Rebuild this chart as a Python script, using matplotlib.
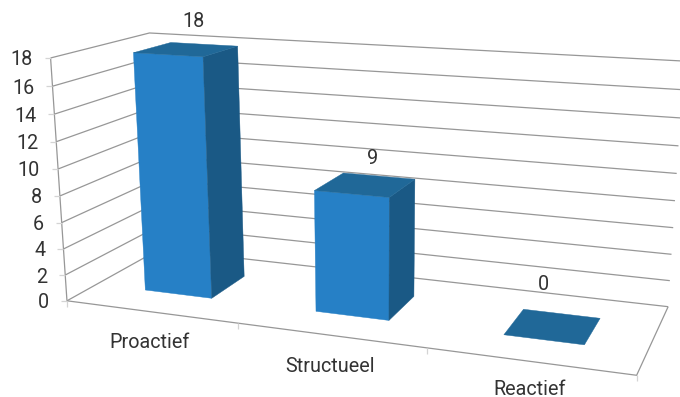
import numpy as np
import matplotlib
matplotlib.use('Agg')
import matplotlib.pyplot as plt
from matplotlib.patches import Polygon

categories = ['Proactief', 'Structueel', 'Reactief']
values = [18, 9, 0]
y_ticks = [0, 2, 4, 6, 8, 10, 12, 14, 16, 18]

plt.rcParams['font.family'] = ['Roboto', 'DejaVu Sans']

W, H = 680, 397
grid_color = '#979797'
tick_color = '#d4d4d4'
text_color = '#333333'
front_color = '#2680c6'
side_color = '#1a5985'
top_color = '#206898'

# camera: (category, depth, value) -> pixel position
box_pts = [((0, 0, 0), (66.5, 301)), ((3, 0, 0), (636.7, 375)),
           ((0, 1, 0), (160, 249)), ((3, 1, 0), (668, 307)),
           ((0, 0, 18), (51, 58)), ((0, 1, 18), (149, 33)), ((3, 1, 18), (684, 61))]
A, b = [], []
for (x, d, v), (u, w) in box_pts:
    A.append([x, d, v, 1, 0, 0, 0, 0, -u * x, -u * d, -u * v])
    b.append(u)
    A.append([0, 0, 0, 0, x, d, v, 1, -w * x, -w * d, -w * v])
    b.append(w)
p = np.linalg.lstsq(np.array(A, float), np.array(b, float), rcond=None)[0]
P = np.append(p, 1).reshape(3, 4)


def proj(x, d, v):
    q = P @ np.array([x, d, v, 1.0])
    return q[:2] / q[2]


fig = plt.figure(figsize=(W / 100, H / 100), dpi=100)
ax = fig.add_axes([0, 0, 1, 1])
ax.set_xlim(0, W)
ax.set_ylim(H, 0)
ax.axis('off')


def line(pts, color=grid_color, lw=0.9):
    pts = np.array(pts)
    ax.plot(pts[:, 0], pts[:, 1], color=color, lw=lw, solid_capstyle='butt', zorder=1)


# walls
for v in y_ticks:
    line([proj(0, 0, v), proj(0, 1, v), proj(3, 1, v)])
line([proj(0, 0, 0), proj(0, 0, max(y_ticks))])

# floor outline
line([proj(0, 0, 0), proj(3, 0, 0), proj(3, 1, 0)])

# tick marks and axis labels
for v in y_ticks:
    x0, y0 = proj(0, 0, v)
    line([(x0 - 6, y0), (x0, y0)], color=tick_color)
    ax.text(x0 - 18, y0 + 2, str(v), ha='right', va='center', fontsize=14.2, color=text_color)
for i in range(len(categories) + 1):
    x0, y0 = proj(i, 0, 0)
    line([(x0, y0), (x0, y0 + 6)], color=tick_color)
label_shift = [(-1, 31), (0, 31), (1, 28)]
for i, name in enumerate(categories):
    x0, y0 = proj(i + 0.5, 0, 0)
    ax.text(x0 + label_shift[i][0], y0 + label_shift[i][1], name, ha='center', va='center',
            fontsize=14.2, color=text_color)

# bars
x_pad, d0, d1 = 0.3, 0.3, 0.7
value_shift = [(-10, -23), (-6, -18), (-18, -29)]
for i, val in enumerate(values):
    xa, xb = i + x_pad, i + 1 - x_pad
    if val > 0:
        front = [proj(xa, d0, 0), proj(xb, d0, 0), proj(xb, d0, val), proj(xa, d0, val)]
        side = [proj(xb, d0, 0), proj(xb, d1, 0), proj(xb, d1, val), proj(xb, d0, val)]
        ax.add_patch(Polygon(front, fc=front_color, ec=front_color, lw=0.3, zorder=3))
        ax.add_patch(Polygon(side, fc=side_color, ec=side_color, lw=0.3, zorder=3))
    top = [proj(xa, d0, val), proj(xb, d0, val), proj(xb, d1, val), proj(xa, d1, val)]
    ax.add_patch(Polygon(top, fc=top_color, ec=top_color, lw=0.3, zorder=3))
    xt, yt = proj(i + 0.5, d1, val)
    ax.text(xt + value_shift[i][0], yt + value_shift[i][1], str(val), ha='center', va='center',
            fontsize=14.2, color=text_color, zorder=4)

fig.savefig('out.png', dpi=100)
